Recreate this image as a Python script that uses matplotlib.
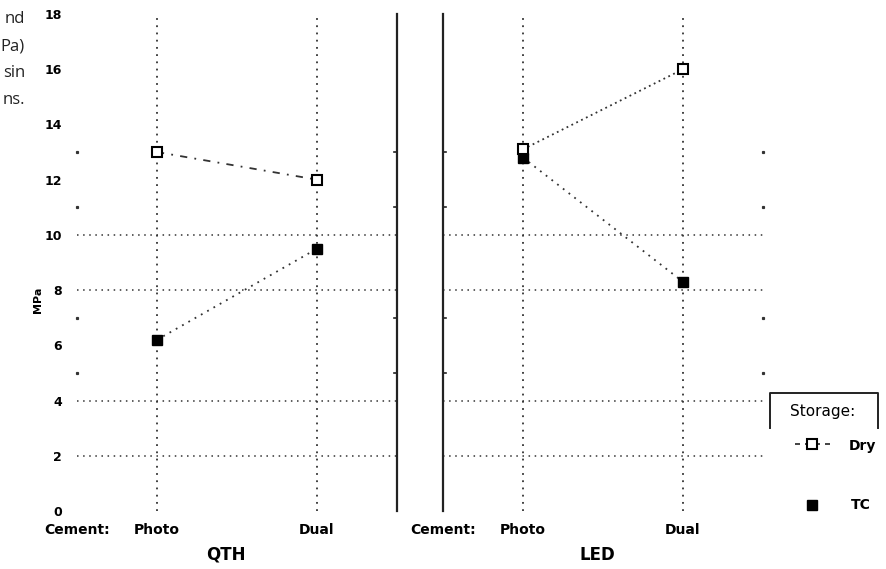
import matplotlib
matplotlib.use("Agg")
from matplotlib import pyplot as plt
from matplotlib.transforms import blended_transform_factory

cements = ["Photo", "Dual"]
lights = ["QTH", "LED"]

dry_qth = [13.0, 12.0]
tc_qth = [6.2, 9.5]
dry_led = [13.1, 16.0]
tc_led = [12.8, 8.3]

y_labels = [0, 2, 4, 6, 8, 10, 12, 14, 16, 18]
grid_levels = [2, 4, 8, 10]
minor_levels = [5, 7, 11, 13]

side_text = ["nd", "Pa)", "sin", "ns."]

fig = plt.figure(figsize=(8.87, 5.69), dpi=100)
fig.patch.set_facecolor("white")

W, H = 887, 569
y0, y1 = 511, 14
panels = [
    (fig.add_axes([77 / W, (H - y0) / H, 320 / W, (y0 - y1) / H]), dry_qth, tc_qth, (0, (4, 4, 1, 4))),
    (fig.add_axes([443 / W, (H - y0) / H, 320 / W, (y0 - y1) / H]), dry_led, tc_led, (0, (1, 2))),
]

for i, (ax, dry, tc, dry_ls) in enumerate(panels):
    x = list(range(len(cements)))
    ax.set_xlim(-0.5, 1.5)
    ax.set_ylim(0, 18)
    ax.set_facecolor("none")
    for s in ["top", "bottom", "left", "right"]:
        ax.spines[s].set_visible(False)
    sep = "right" if i == 0 else "left"
    ax.spines[sep].set_visible(True)
    ax.spines[sep].set_linewidth(1.6)
    ax.spines[sep].set_color("#222222")

    ax.set_xticks([])
    if i == 0:
        ax.set_yticks(y_labels)
        ax.set_yticklabels([str(v) for v in y_labels], fontsize=9, fontweight="bold")
        ax.tick_params(axis="y", length=0, pad=11)
    else:
        ax.set_yticks([])

    # separator minor ticks pointing into the panel
    sep_x = 1.5 if i == 0 else -0.5
    far_x = -0.5 if i == 0 else 1.5
    d = -0.02 if i == 0 else 0.02
    for lv in minor_levels:
        ax.plot([sep_x, sep_x + d], [lv, lv], color="#222222", lw=1.2, clip_on=False)
        ax.plot([far_x], [lv], marker="s", ms=1.3, color="#333333", ls="none", clip_on=False)

    for lv in grid_levels:
        ax.axhline(lv, color="#333333", lw=1.1, ls=(0, (1, 3)))
    for xv in x:
        ax.axvline(xv, color="#333333", lw=1.3, ls=(0, (1, 3)))

    ax.plot(x, tc, ls=(0, (1, 3)), color="#333333", lw=1.3, marker="s", ms=7.5,
            mfc="black", mec="black", zorder=3)
    ax.plot(x, dry, ls=dry_ls, color="#333333", lw=1.3,
            marker="s", ms=7.5, mfc="white", mec="black", mew=1.5, zorder=4)

    tr = blended_transform_factory(ax.transData, ax.transAxes)
    ax.text(-0.5, -0.038, "Cement:", transform=tr, ha="center", va="center",
            fontsize=10, fontweight="bold")
    for xv, c in zip(x, cements):
        ax.text(xv, -0.038, c, transform=tr, ha="center", va="center",
                fontsize=10, fontweight="bold")

# overlay in pixel coordinates for the surrounding text and the legend
ov = fig.add_axes([0, 0, 1, 1])
ov.set_xlim(0, W)
ov.set_ylim(H, 0)
ov.axis("off")
ov.patch.set_alpha(0)

ov.text(226, 555, lights[0], ha="center", va="center", fontsize=12, fontweight="bold")
ov.text(597, 555, lights[1], ha="center", va="center", fontsize=12, fontweight="bold")
ov.text(38, 300, "MPa", rotation=90, ha="center", va="center", fontsize=8, fontweight="bold")

for k, t in enumerate(side_text):
    ov.text(25, 19 + 27 * k, t, ha="right", va="center", fontsize=12,
            family="Open Sans", color="#222222")

ov.plot([770, 770, 878, 878], [428, 393, 393, 428], color="#222222", lw=1.4)
ov.text(823, 411, "Storage:", ha="center", va="center", fontsize=11)
ov.plot([795, 830], [444, 444], color="#222222", lw=1.2, ls=(0, (3, 3)))
ov.plot([812], [444], marker="s", ms=7.5, mfc="white", mec="black", mew=1.5, ls="none")
ov.text(849, 446, "Dry", ha="left", va="center", fontsize=10, fontweight="bold")
ov.plot([812], [505], marker="s", ms=7.5, mfc="black", mec="black", ls="none")
ov.text(851, 505, "TC", ha="left", va="center", fontsize=10, fontweight="bold")

fig.savefig("out.png", dpi=100, facecolor="white")
plt.close(fig)
